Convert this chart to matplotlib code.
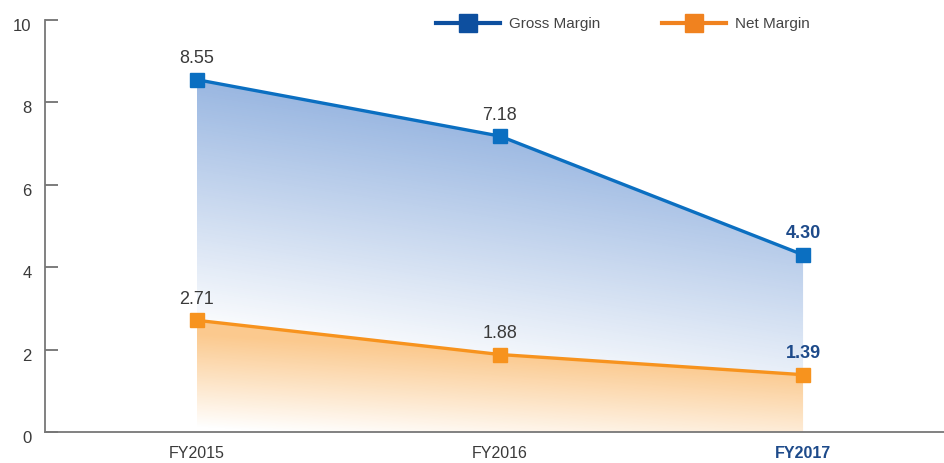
import matplotlib
matplotlib.use('Agg')
import matplotlib.pyplot as plt
import matplotlib.transforms as mtransforms
import numpy as np
from matplotlib.lines import Line2D

plt.rcParams['font.family'] = ['Liberation Sans Narrow', 'Liberation Sans', 'DejaVu Sans']

years = ['FY2015', 'FY2016', 'FY2017']
gross_margin = [8.55, 7.18, 4.30]
net_margin = [2.71, 1.88, 1.39]
yticks = [0, 2, 4, 6, 8, 10]

blue = '#0b6fc1'
blue_dark = '#0d4f9f'
orange = '#f7931e'
orange_dark = '#f0821f'
label_grey = '#3a3a3a'
label_bold = '#1d4a8a'

fig = plt.figure(figsize=(9.44, 4.63), dpi=100)
ax = fig.add_axes([0.048, 0.067, 0.952, 0.89])
x = np.arange(len(years))

ax.set_xlim(-0.5, 2.465)
ax.set_ylim(0, 10)

# gradient fills, clipped to the area polygons
def grad_fill(y_top, y_bot, rgb, alpha_fn):
    poly = ax.fill_between(x, y_bot, y_top, color='none', lw=0)
    gx, gy = np.meshgrid(np.linspace(0, 2, 200), np.linspace(0, 10, 300))
    img = np.zeros((300, 200, 4))
    img[..., 0] = rgb[0]
    img[..., 1] = rgb[1]
    img[..., 2] = rgb[2]
    img[..., 3] = alpha_fn(gx, gy)
    im = ax.imshow(img, extent=[0, 2, 0, 10], origin='lower', aspect='auto',
                   interpolation='bilinear', zorder=1)
    im.set_clip_path(poly.get_paths()[0], transform=ax.transData)

grad_fill(gross_margin, net_margin, (0.24, 0.46, 0.78),
          lambda gx, gy: np.clip(0.085 * gy + 0.1 * gx - 0.2, 0, 0.56))
grad_fill(net_margin, [0, 0, 0], (0.97, 0.58, 0.11),
          lambda gx, gy: np.clip(0.22 * gy + 0.1 * gx - 0.02, 0, 0.5))

ax.plot(x, gross_margin, color=blue, lw=2.4, marker='s', ms=10, zorder=3)
ax.plot(x, net_margin, color=orange, lw=2.4, marker='s', ms=10, zorder=3)

for i in range(len(years)):
    last = i == len(years) - 1
    for v in (gross_margin[i], net_margin[i]):
        ax.text(x[i], v + 0.3, '%.2f' % v, ha='center', va='bottom',
                fontsize=13, color=label_bold if last else label_grey,
                fontweight='bold' if last else 'normal')

ax.set_xticks(x)
ax.set_xticklabels(years, fontsize=11.5, color=label_grey)
ax.get_xticklabels()[-1].set_color(label_bold)
ax.get_xticklabels()[-1].set_fontweight('bold')
ax.tick_params(axis='x', length=0, pad=10)
ax.set_yticks(yticks)
ax.tick_params(axis='y', direction='in', length=9, width=1.2, color='#666666',
               labelsize=12, labelcolor=label_grey, pad=10)
# labels sit a little below their ticks in the original
shift = mtransforms.ScaledTranslation(0, -5 / 100, fig.dpi_scale_trans)
for lab in ax.get_yticklabels():
    lab.set_transform(lab.get_transform() + shift)

for s in ('top', 'right'):
    ax.spines[s].set_visible(False)
for s in ('left', 'bottom'):
    ax.spines[s].set_color('#777777')
    ax.spines[s].set_linewidth(1.3)

handles = [Line2D([], [], color=blue_dark, lw=3, marker='s', ms=13),
           Line2D([], [], color=orange_dark, lw=3, marker='s', ms=13)]
fig.legend(handles, ['Gross Margin', 'Net Margin'], loc='center',
           bbox_to_anchor=(0.66, 0.948), ncol=2, frameon=False, fontsize=11,
           handlelength=4.2, handletextpad=0.6, columnspacing=4.0,
           labelcolor='#444444')

fig.savefig('out.png', dpi=100)
